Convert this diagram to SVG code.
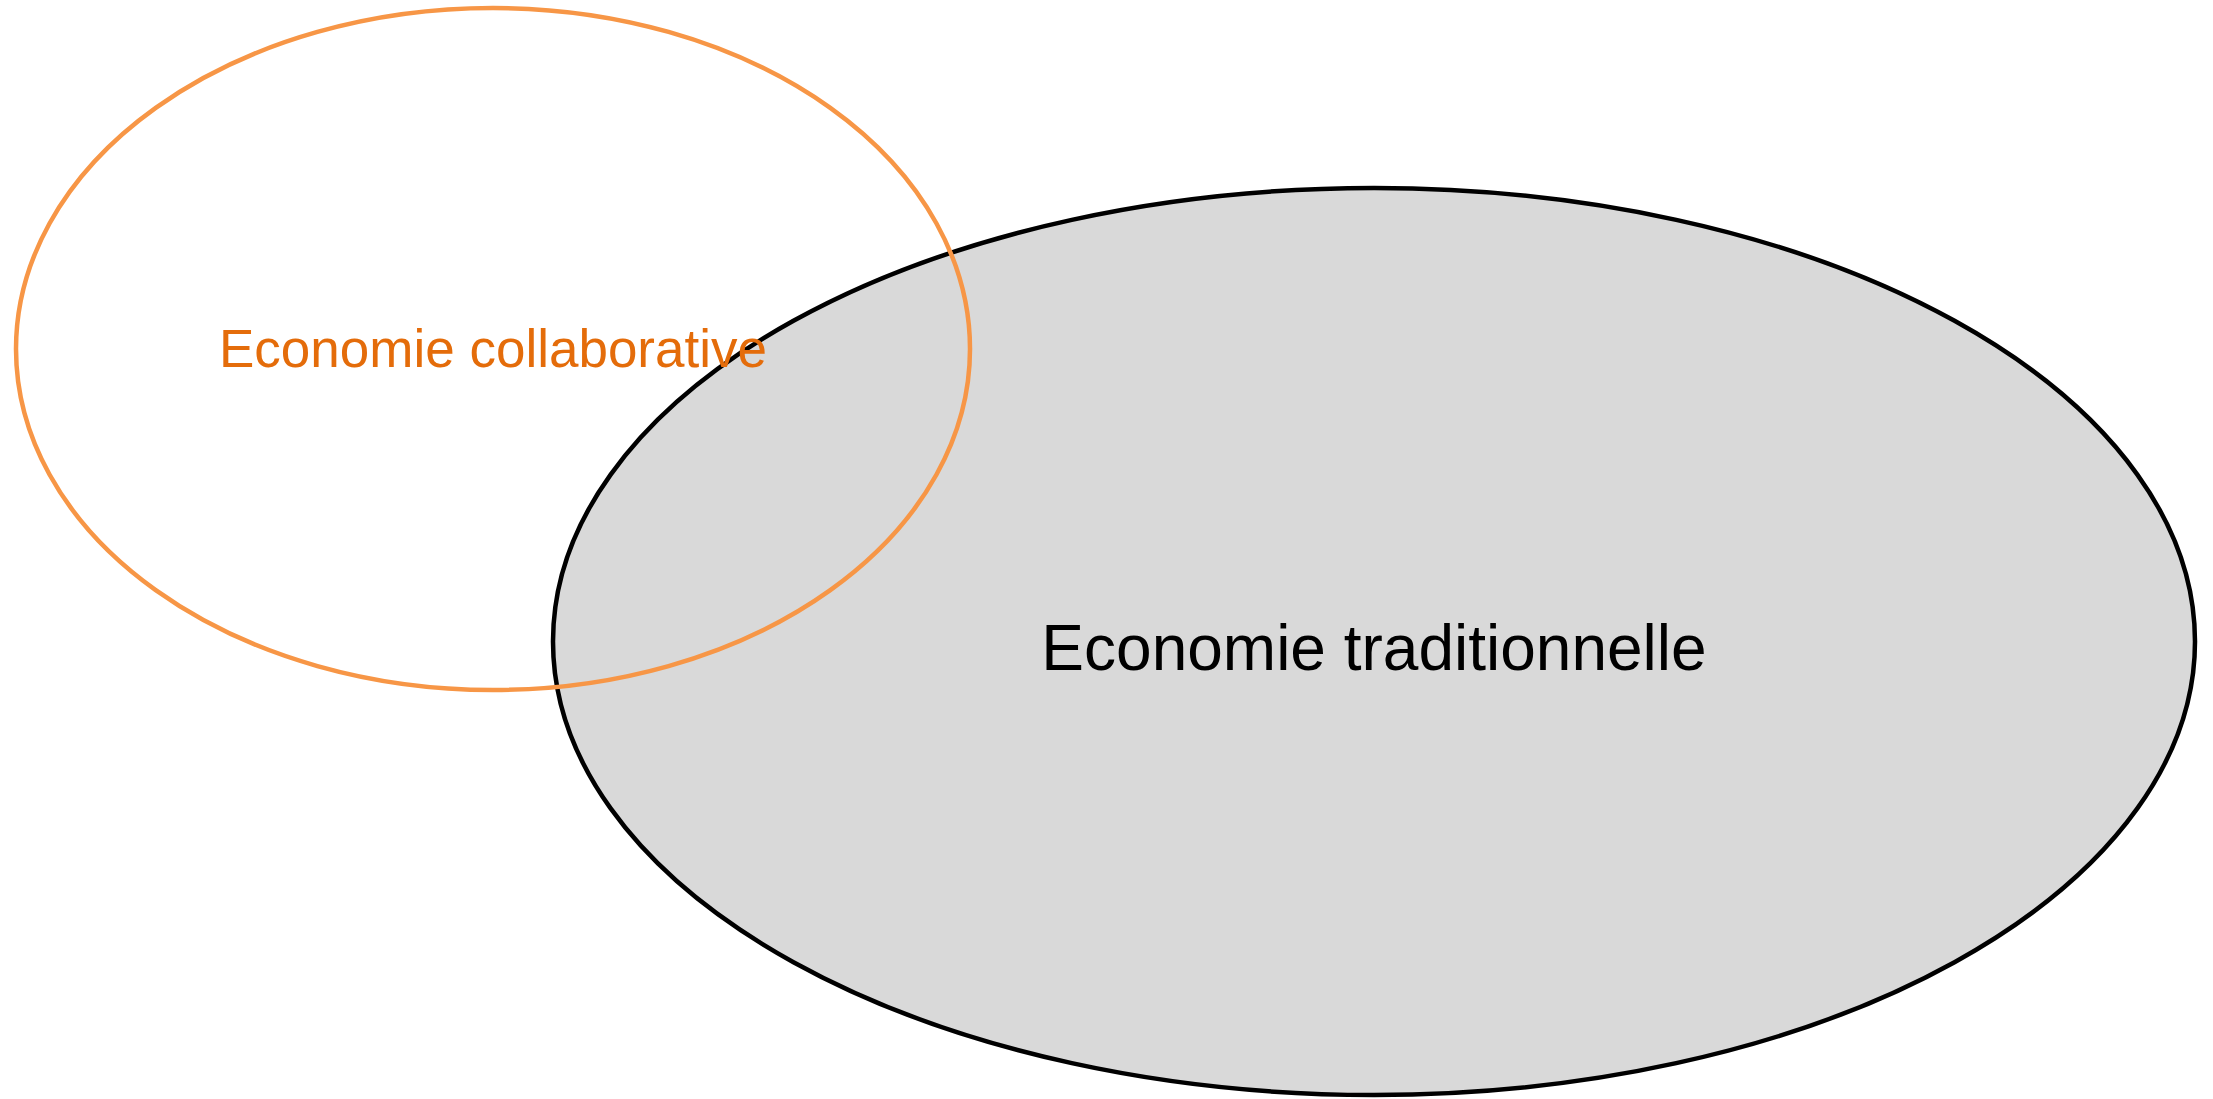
<svg xmlns="http://www.w3.org/2000/svg" width="2213" height="1099" viewBox="0 0 2213 1099">
<style>
.lbl{font-family:"Liberation Sans",Arial,sans-serif;text-anchor:middle}
</style>
<rect width="2213" height="1099" fill="#ffffff"/>
<g id="traditionnelle">
<ellipse cx="1374" cy="641.5" rx="821" ry="453.5" fill="#d9d9d9" stroke="#000000" stroke-width="4.5"/>
<text class="lbl" x="1374" y="670" font-size="64" fill="#000000">Economie traditionnelle</text>
</g>
<g id="collaborative">
<ellipse cx="493" cy="349" rx="477" ry="341" fill="none" stroke="#f79646" stroke-width="4.5"/>
<text class="lbl" x="493" y="367" font-size="53" fill="#e46c0a">Economie collaborative</text>
</g>
<g id="connectors"></g>
</svg>
